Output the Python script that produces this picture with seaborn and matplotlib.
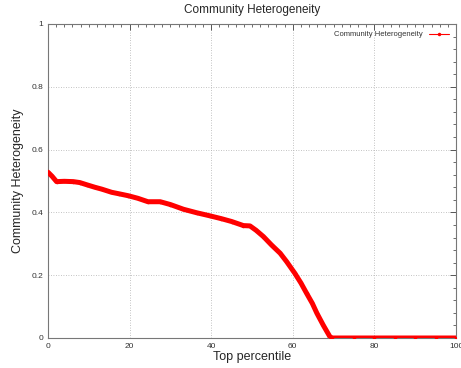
import matplotlib
matplotlib.use("Agg")
import matplotlib.pyplot as plt
from matplotlib.lines import Line2D
from matplotlib.ticker import MultipleLocator
import seaborn as sns
import pandas as pd

# Heterogeneity of communities by top percentile
percentile = [0, 1, 2.1, 4, 6.2, 7.8, 9.5, 11.5, 13.2, 15.6, 17.5, 19.7, 22, 24.5,
              27.5, 30, 33.2, 36.4, 39.7, 42.5, 45, 47.9, 49.5, 51, 52.8, 54.8,
              56.9, 58.5, 60.5, 62, 63.4, 64.8, 65.9, 67.5, 69.1, 69.5, 75, 80,
              85, 90, 95, 100]
heterogeneity = [0.528, 0.515, 0.498, 0.499, 0.498, 0.495, 0.488, 0.480, 0.474,
                 0.464, 0.459, 0.453, 0.445, 0.434, 0.434, 0.425, 0.410, 0.399,
                 0.389, 0.380, 0.371, 0.358, 0.357, 0.343, 0.323, 0.296, 0.270,
                 0.243, 0.206, 0.175, 0.142, 0.110, 0.079, 0.040, 0.004, 0.0,
                 0.0, 0.0, 0.0, 0.0, 0.0, 0.0]

x_ticks = [0, 20, 40, 60, 80, 100]
x_tick_labels = ["0", "20", "40", "60", "80", "100"]
y_ticks = [0, 0.2, 0.4, 0.6, 0.8, 1.0]
y_tick_labels = ["0", "0.2", "0.4", "0.6", "0.8", "1"]

series_name = "Community Heterogeneity"
df = pd.DataFrame({"Top percentile": percentile, series_name: heterogeneity})

sns.set_style("white")
plt.rcParams["font.family"] = ["Liberation Sans", "DejaVu Sans"]

fig = plt.figure(figsize=(4.61, 3.68), dpi=100)
ax = fig.add_axes([48 / 461, 1 - 338 / 368, 408 / 461, 314 / 368])

sns.lineplot(data=df, x="Top percentile", y=series_name, ax=ax,
             color="#ff0000", linewidth=3.6, marker="o", markersize=2.5,
             markeredgewidth=0, legend=False, zorder=3)

ax.set_xticks(x_ticks)
ax.set_xticklabels(x_tick_labels)
ax.set_yticks(y_ticks)
ax.set_yticklabels(y_tick_labels)
ax.xaxis.set_minor_locator(MultipleLocator(2))
ax.yaxis.set_minor_locator(MultipleLocator(0.04))
ax.set_xlim(0, 100)
ax.set_ylim(0, 1)

ax.tick_params(which="both", direction="in", top=True, right=True,
               colors="#555555", labelcolor="#333333", labelsize=6)
ax.tick_params(which="major", length=4, width=0.7)
ax.tick_params(which="minor", length=2, width=0.6)

ax.grid(True, which="major", color="#b0b0b0", linestyle=(0, (1, 2)), linewidth=0.6)
for sp in ax.spines.values():
    sp.set_color("#777777")
    sp.set_linewidth(0.8)

ax.set_xlabel("Top percentile", fontsize=9, labelpad=1)
ax.set_ylabel(series_name, fontsize=9, labelpad=5)
ax.set_title(series_name, fontsize=8.5, pad=8)

handle = Line2D([], [], color="#ff0000", linewidth=0.8, marker="o", markersize=2.5,
                markeredgewidth=0)
leg = ax.legend([handle], [series_name], loc="upper right", frameon=False,
                fontsize=5.5, markerfirst=False, handlelength=2.6,
                borderaxespad=0.5)
for t in leg.get_texts():
    t.set_color("#333333")

fig.savefig("out.png", dpi=100)
